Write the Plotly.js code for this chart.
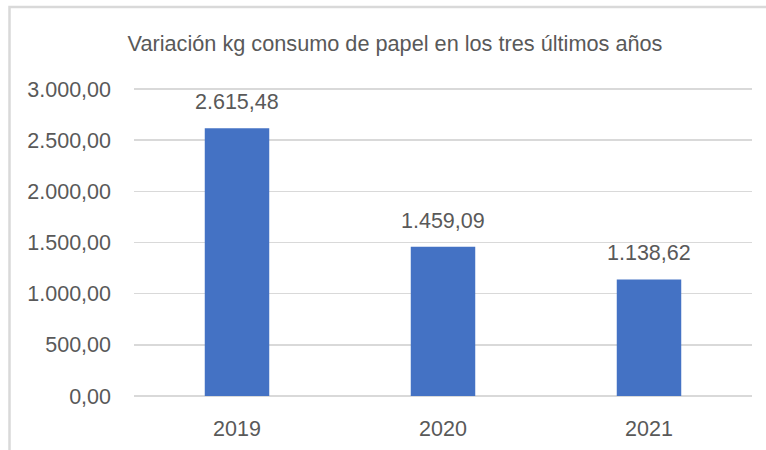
<!DOCTYPE html>
<html>
<head>
<meta charset="utf-8">
<script src="https://cdn.plot.ly/plotly-3.0.1.min.js"></script>
<style>
  html, body { margin: 0; padding: 0; background: #ffffff; overflow: hidden; }
  #chart { width: 766px; height: 450px; }
</style>
</head>
<body>
<div id="chart"></div>
<script>
// ---- data ----
const years = ['2019', '2020', '2021'];
const consumoKg = [2615.48, 1459.09, 1138.62];
const yTickValues = [0, 500, 1000, 1500, 2000, 2500, 3000];
const chartTitle = 'Variación kg consumo de papel en los tres últimos años';

// Spanish number format: 1.234,56
function fmtEs(v) {
  const parts = v.toFixed(2).split('.');
  const intPart = parts[0].replace(/\B(?=(\d{3})+(?!\d))/g, '.');
  return intPart + ',' + parts[1];
}

const textColor = '#595959';
const fontFam = '"Liberation Sans", Arial, sans-serif';

const trace = {
  type: 'bar',
  x: years,
  y: consumoKg,
  marker: { color: '#4472C4' },
  hoverinfo: 'none'
};

// category axis: annotation x given as category index
const annotations = years.map((yr, i) => ({
  x: i,
  y: consumoKg[i],
  xref: 'x',
  yref: 'y',
  text: fmtEs(consumoKg[i]),
  showarrow: false,
  xanchor: 'center',
  yanchor: 'middle',
  yshift: 26,
  font: { family: fontFam, size: 21.5, color: textColor }
}));

const layout = {
  width: 766,
  height: 450,
  margin: { l: 134, r: 14, t: 87, b: 54, pad: 0 },
  paper_bgcolor: '#ffffff',
  plot_bgcolor: '#ffffff',
  separators: ',.',
  showlegend: false,
  bargap: 0.687,
  font: { family: fontFam, size: 21, color: textColor },
  title: {
    text: chartTitle,
    font: { family: fontFam, size: 21.7, color: textColor },
    x: 395 / 766,
    xref: 'container',
    xanchor: 'center',
    y: 1 - 43 / 450,
    yref: 'container',
    yanchor: 'middle'
  },
  xaxis: {
    type: 'category',
    showgrid: false,
    showline: false,
    zeroline: false,
    ticks: '',
    ticklabelstandoff: 17,
    tickfont: { family: fontFam, size: 21.5, color: textColor }
  },
  yaxis: {
    range: [0, 3019.5],
    tickvals: yTickValues,
    ticktext: yTickValues.map(fmtEs),
    showgrid: true,
    gridcolor: '#d9d9d9',
    gridwidth: 1.5,
    zeroline: true,
    zerolinecolor: '#d9d9d9',
    zerolinewidth: 2,
    showline: false,
    ticks: '',
    ticklabelstandoff: 22,
    tickfont: { family: fontFam, size: 21.5, color: textColor }
  },
  shapes: [{
    type: 'rect',
    xref: 'paper', yref: 'paper',
    x0: (9.5 - 134) / 618, x1: 1.3,
    y0: -0.5, y1: (396 - 7) / 309,
    line: { color: '#d9d9d9', width: 2.5 },
    fillcolor: 'rgba(0,0,0,0)',
    layer: 'below'
  }],
  annotations: annotations
};

Plotly.newPlot('chart', [trace], layout, { staticPlot: true, displayModeBar: false });
</script>
</body>
</html>
